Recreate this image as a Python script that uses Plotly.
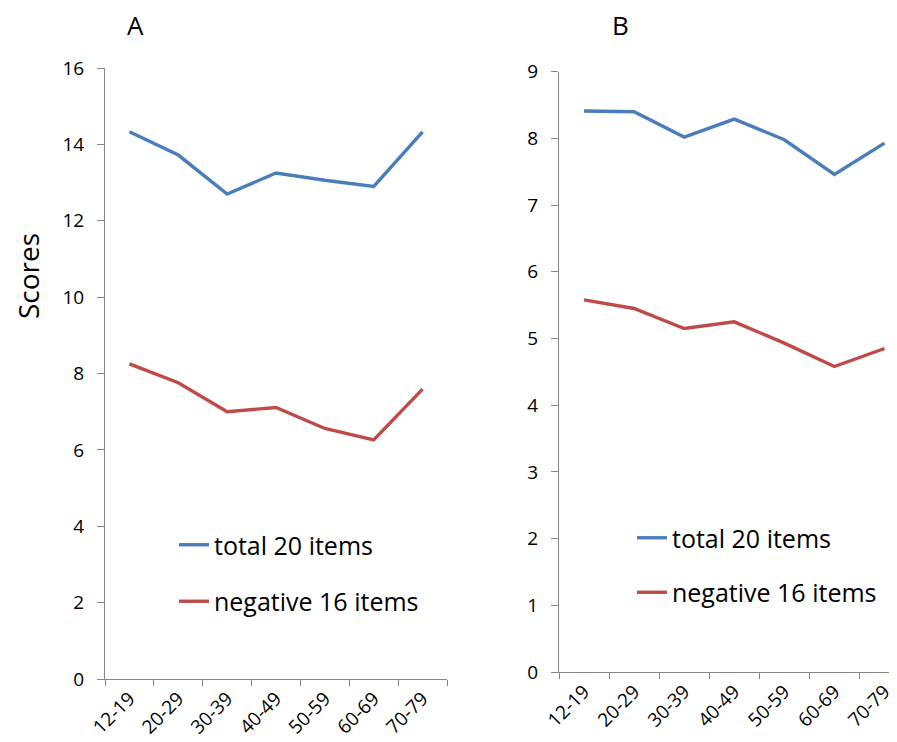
import plotly.graph_objects as go

categories = ["12-19", "20-29", "30-39", "40-49", "50-59", "60-69", "70-79"]
a_total = [14.33, 13.72, 12.70, 13.25, 13.06, 12.90, 14.33]
a_negative = [8.25, 7.76, 7.00, 7.11, 6.56, 6.26, 7.59]
b_total = [8.41, 8.40, 8.02, 8.29, 7.98, 7.46, 7.93]
b_negative = [5.58, 5.45, 5.15, 5.25, 4.93, 4.58, 4.85]
series_names = ["total 20 items", "negative 16 items"]

BLUE = "#4A7EBB"
RED = "#BE4B48"
AXIS = "#868686"
FONT = "Open Sans"
# page body has an 8px margin, so the figure is sized to fill the rest of the window
OFF = 8
W, H = 897 - OFF, 742 - OFF


def px(x):
    return (x - OFF) / W


def py(y):
    return 1 - (y - OFF) / H


fig = go.Figure()
fig.add_trace(go.Scatter(x=categories, y=a_total, mode="lines", name=series_names[0],
                         line=dict(color=BLUE, width=3.4), xaxis="x", yaxis="y",
                         legend="legend", legendgroup="a1"))
fig.add_trace(go.Scatter(x=categories, y=a_negative, mode="lines", name=series_names[1],
                         line=dict(color=RED, width=3.4), xaxis="x", yaxis="y",
                         legend="legend", legendgroup="a2"))
fig.add_trace(go.Scatter(x=categories, y=b_total, mode="lines", name=series_names[0],
                         line=dict(color=BLUE, width=3.4), xaxis="x2", yaxis="y2",
                         legend="legend2", legendgroup="b1"))
fig.add_trace(go.Scatter(x=categories, y=b_negative, mode="lines", name=series_names[1],
                         line=dict(color=RED, width=3.4), xaxis="x2", yaxis="y2",
                         legend="legend2", legendgroup="b2"))

xcommon = dict(type="category", showline=True, linecolor=AXIS, linewidth=1,
               ticks="outside", ticklen=6, tickcolor=AXIS, tickson="boundaries",
               tickangle=-45, showgrid=False, zeroline=False, automargin=False,
               tickfont=dict(family=FONT, size=19, color="black"))
ycommon = dict(showline=True, linecolor=AXIS, linewidth=1, ticks="outside",
               ticklen=7, tickcolor=AXIS, showgrid=False, zeroline=False,
               ticklabelstandoff=9, automargin=False,
               tickfont=dict(family=FONT, size=19, color="black"))

legcommon = dict(xanchor="left", yanchor="top", bgcolor="rgba(0,0,0,0)",
                 traceorder="grouped", font=dict(family=FONT, size=25, color="black"))

fig.update_layout(
    width=W, height=H,
    margin=dict(l=0, r=0, t=0, b=0, autoexpand=False),
    paper_bgcolor="white", plot_bgcolor="white",
    xaxis=dict(domain=[px(105), px(447)], range=[-0.5, 6.5], anchor="y", **xcommon),
    yaxis=dict(domain=[py(679), py(68)], range=[0, 16], dtick=2, anchor="x", **ycommon),
    xaxis2=dict(domain=[px(559), 1.0], range=[-0.5, 6.25], anchor="y2", **xcommon),
    yaxis2=dict(domain=[py(672), py(71.7)], range=[0, 9], dtick=1, anchor="x2", **ycommon),
    legend=dict(x=px(174), y=py(522), tracegroupgap=21, **legcommon),
    legend2=dict(x=px(632), y=py(515), tracegroupgap=19, **legcommon),
    annotations=[
        dict(text="A", x=px(135), y=py(25), xref="paper", yref="paper",
             xanchor="center", yanchor="middle",
             showarrow=False, font=dict(family=FONT, size=26, color="black")),
        dict(text="B", x=px(620), y=py(25), xref="paper", yref="paper",
             xanchor="center", yanchor="middle",
             showarrow=False, font=dict(family=FONT, size=26, color="black")),
        dict(text="Scores", x=px(28), y=py(276), xref="paper", yref="paper",
             xanchor="center", yanchor="middle",
             textangle=-90, showarrow=False, font=dict(family=FONT, size=28, color="black")),
    ],
)

fig.write_html("out.html")
